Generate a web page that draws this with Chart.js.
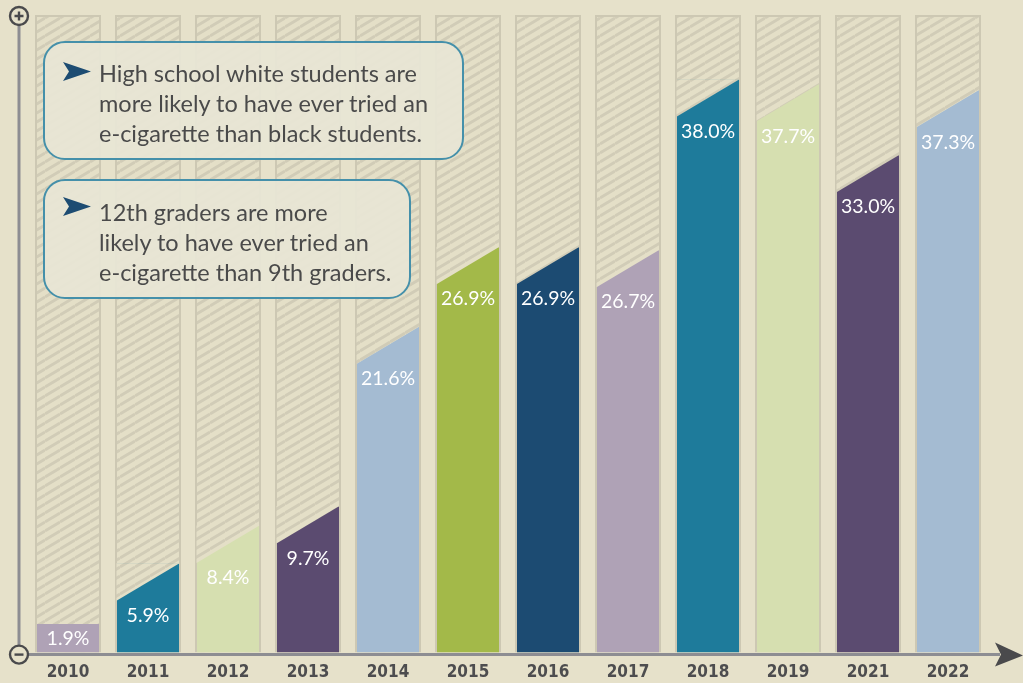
<!DOCTYPE html>
<html>
<head>
<meta charset="utf-8">
<script src="https://cdn.jsdelivr.net/npm/chart.js@4.4.1/dist/chart.umd.min.js"></script>
<style>
  body { margin: 0; background: #e6e1ca; }
  #wrap { position: relative; width: 1023px; height: 683px; overflow: hidden; }
  .note {
    position: absolute; box-sizing: border-box;
    border: 2px solid #4590aa; border-radius: 22px;
    background: rgba(232, 230, 213, 0.94);
    color: #4a4a4a; font-family: Lato, 'Open Sans', sans-serif;
    font-size: 23.5px; line-height: 30px; white-space: nowrap;
    padding-left: 54px;
  }
  .note svg { position: absolute; left: 18px; }
</style>
</head>
<body>
<div id="wrap">
  <canvas id="chart" width="1023" height="683"></canvas>
  <div class="note" style="left:43px;top:41px;width:421px;height:119px;padding-top:15px;">
    <svg width="28" height="19" style="top:19px"><polygon points="0,0 28,9.5 0,19 6,9.5" fill="#1d4c72"/></svg>
    High school white students are<br>more likely to have ever tried an<br>e-cigarette than black students.
  </div>
  <div class="note" style="left:43px;top:179px;width:368px;height:120px;padding-top:16px;">
    <svg width="28" height="19" style="top:16px"><polygon points="0,0 28,9.5 0,19 6,9.5" fill="#1d4c72"/></svg>
    12th graders are more<br>likely to have ever tried an<br>e-cigarette than 9th graders.
  </div>
</div>
<script>
// data
const years = ['2010', '2011', '2012', '2013', '2014', '2015', '2016', '2017', '2018', '2019', '2021', '2022'];
const rates = [1.9, 5.9, 8.4, 9.7, 21.6, 26.9, 26.9, 26.7, 38.0, 37.7, 33.0, 37.3];
const barColors = ['#afa2b6', '#1e7b9b', '#d6dfb0', '#5b4b70', '#a4bbd2', '#a3b949',
                   '#1c4b72', '#afa2b6', '#1e7b9b', '#d6dfb0', '#5b4b70', '#a4bbd2'];
const yMax = 42.3;
const fullColumn = years.map(() => yMax);

var canvas = document.getElementById('chart');
var ctx0 = canvas.getContext('2d');

// striped fill for the background columns
function makeHatch() {
  const c = document.createElement('canvas');
  c.width = 15; c.height = 9;
  const g = c.getContext('2d');
  g.fillStyle = '#e4dfc7';
  g.fillRect(0, 0, 15, 9);
  g.strokeStyle = '#d1ccb7';
  g.lineWidth = 2.8;
  for (let k = -1; k <= 1; k++) {
    g.beginPath();
    g.moveTo(0, 9 + 9 * k);
    g.lineTo(15, 9 * k);
    g.stroke();
  }
  return ctx0.createPattern(c, 'repeat');
}
var hatch = makeHatch();

// cut the slanted tops, write the values, draw the axes
const slantPlugin = {
  id: 'slant',
  afterDatasetsDraw(chart) {
    const ctx = chart.ctx;
    const meta = chart.getDatasetMeta(0);
    meta.data.forEach((bar, i) => {
      const p = bar.getProps(['x', 'y', 'base', 'width'], true);
      const left = p.x - p.width / 2, right = p.x + p.width / 2;
      const drop = (p.base - p.y) > 50 ? 37 : 0;
      if (drop) {
        ctx.save();
        ctx.fillStyle = hatch;
        ctx.beginPath();
        ctx.moveTo(left - 0.5, p.y - 0.5);
        ctx.lineTo(right + 0.5, p.y - 0.5);
        ctx.lineTo(left - 0.5, p.y + drop);
        ctx.closePath();
        ctx.fill();
        ctx.restore();
      }
      ctx.save();
      ctx.fillStyle = '#ffffff';
      ctx.font = '19.5px Lato, sans-serif';
      ctx.textAlign = 'center';
      ctx.textBaseline = 'middle';
      ctx.fillText(rates[i].toFixed(1) + '%', p.x, p.y + drop + 15);
      ctx.restore();
    });

    const area = chart.chartArea;
    const ax = 19, ay = area.bottom + 2;
    ctx.save();
    ctx.strokeStyle = '#8d8d92';
    ctx.lineWidth = 3;
    ctx.beginPath();
    ctx.moveTo(ax, 25); ctx.lineTo(ax, ay - 9);
    ctx.moveTo(ax + 9, ay); ctx.lineTo(1000, ay);
    ctx.stroke();
    // arrow head
    ctx.fillStyle = '#4a4a4c';
    ctx.beginPath();
    ctx.moveTo(995, ay - 12); ctx.lineTo(1023, ay + 1); ctx.lineTo(995, ay + 12); ctx.lineTo(1001, ay);
    ctx.closePath();
    ctx.fill();
    // plus / minus circles
    ctx.strokeStyle = '#4a4a4c';
    ctx.fillStyle = '#e6e1ca';
    ctx.lineWidth = 2.4;
    [[16, true], [ay, false]].forEach(([cy, plus]) => {
      ctx.beginPath();
      ctx.arc(ax, cy, 9, 0, Math.PI * 2);
      ctx.fill();
      ctx.stroke();
      ctx.beginPath();
      ctx.moveTo(ax - 4.5, cy); ctx.lineTo(ax + 4.5, cy);
      if (plus) { ctx.moveTo(ax, cy - 4.5); ctx.lineTo(ax, cy + 4.5); }
      ctx.stroke();
    });
    ctx.restore();
  }
};

var chart = new Chart(canvas, {
  type: 'bar',
  data: {
    labels: years,
    datasets: [
      {
        data: rates,
        backgroundColor: barColors,
        borderWidth: 0,
        barPercentage: 0.775,
        categoryPercentage: 1,
        grouped: false,
        order: 0
      },
      {
        data: fullColumn,
        backgroundColor: hatch,
        borderColor: '#cdc8b3',
        borderWidth: 2,
        barPercentage: 0.825,
        categoryPercentage: 1,
        grouped: false,
        order: 1
      }
    ]
  },
  options: {
    responsive: false,
    animation: false,
    layout: { padding: { left: 28, right: 35, top: 15, bottom: -10 } },
    plugins: {
      legend: { display: false },
      tooltip: { enabled: false }
    },
    scales: {
      x: {
        grid: { display: false, drawTicks: false },
        border: { display: false },
        ticks: {
          color: '#4d4d4f',
          padding: 10,
          font: { family: "'Liberation Sans Narrow', 'DejaVu Sans Condensed', sans-serif", size: 17, weight: 'bold' }
        }
      },
      y: { display: false, min: 0, max: yMax }
    }
  },
  plugins: [slantPlugin]
});
</script>
</body>
</html>
